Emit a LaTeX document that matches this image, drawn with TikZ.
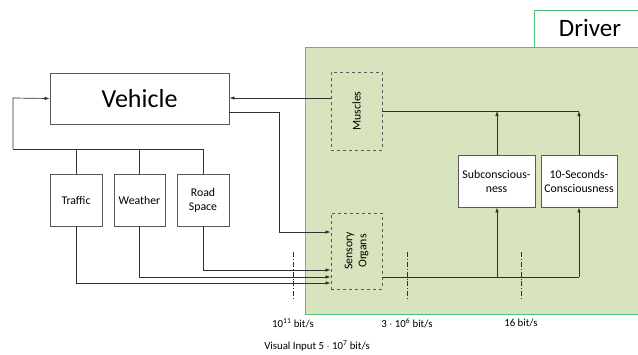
\documentclass[tikz,border=0pt]{standalone}
\usepackage{fontspec}
\setmainfont{Carlito}
\usetikzlibrary{arrows.meta}
\definecolor{linec}{HTML}{303030}
\definecolor{boxc}{HTML}{595959}
\definecolor{greenfill}{HTML}{D7E4BD}
\definecolor{greenline}{HTML}{4CC27E}
\tikzset{
  box/.style={draw=boxc, line width=0.8pt, fill=white, inner sep=1pt, align=center, font=\fontsize{11.8}{14}\selectfont},
  dbox/.style={draw=boxc, line width=0.8pt, dashed, inner sep=1pt, align=center, font=\fontsize{11.8}{14}\selectfont},
  conn/.style={draw=linec, line width=0.7pt},
  arr/.style={conn, -{Latex[length=5pt,width=3.6pt]}},
  ddot/.style={draw=linec, line width=0.6pt, dash pattern=on 5pt off 2pt on 0.8pt off 2pt},
  lbl/.style={font=\fontsize{10.8}{12}\selectfont, inner sep=0pt}
}
\begin{document}
\begin{tikzpicture}[x=1pt,y=-1pt]
\useasboundingbox (0,0) rectangle (638,354);
% Driver area
\fill[greenfill] (305,47) rectangle (642,314);
\draw[greenline, line width=0.8pt] (642,47) -- (305,47) -- (305,314) -- (642,314);
\draw[greenline, line width=0.8pt, fill=white] (534,47) -- (534,10) -- (642,10) -- (642,47);
\node[font=\fontsize{25}{28}\selectfont, anchor=center] (driver) at (590,28) {Driver};
% Vehicle
\node[box, minimum width=179pt, minimum height=51pt, font=\fontsize{26}{30}\selectfont] (veh) at (139.5,98.5) {Vehicle};
% environment boxes
\node[box, minimum width=52pt, minimum height=52pt] (traffic) at (76,200) {Traffic};
\node[box, minimum width=51pt, minimum height=52pt] (weather) at (139.5,200) {Weather};
\node[box, minimum width=52pt, minimum height=52pt] (road) at (203,200) {Road\\Space};
% driver inner boxes
\node[dbox, minimum width=51pt, minimum height=78pt] (muscles) at (356.5,111) {\rotatebox{90}{Muscles}};
\node[dbox, minimum width=51pt, minimum height=76pt] (sensory) at (356.5,251) {\rotatebox{90}{\begin{tabular}{@{}c@{}}Sensory\\Organs\end{tabular}}};
\node[box, minimum width=77pt, minimum height=52pt] (subc) at (496.5,181) {Subconscious-\\ness};
\node[box, minimum width=76pt, minimum height=52pt] (tens) at (579,181) {10-Seconds-\\Consciousness};
% coordinates
\coordinate (lj) at (13,149);
\coordinate (rj) at (203,149);
\coordinate (cA) at (497,111);
\coordinate (cB) at (579,111);
\coordinate (sA) at (497,277);
\coordinate (sB) at (579,277);
% feedback loop
\draw[conn] (road.north) -- (rj) -- (lj);
\draw[conn] (traffic.north) -- (traffic.north |- lj);
\draw[conn] (weather.north) -- (weather.north |- lj);
\draw[arr] (lj) -- (13,98) -- (veh.west);
% muscles to vehicle
\draw[arr] (muscles.west |- 0,98) -- (veh.east |- 0,98);
% vehicle to sensory
\draw[arr] (veh.east |- 0,112) -- (279,112) -- (279,232) -- (sensory.west |- 0,232);
% environment to sensory
\draw[arr] (road.south) -- (road.south |- 0,270) -- (sensory.west |- 0,270);
\draw[arr] (weather.south) -- (weather.south |- 0,277) -- (sensory.west |- 0,277);
\draw[arr] (traffic.south) -- (traffic.south |- 0,283) -- (sensory.west |- 0,283);
% consciousness to muscles
\draw[conn] (muscles.east |- cA) -- (cB);
\draw[arr] (subc.north -| cA) -- (cA);
\draw[arr] (tens.north -| cB) -- (cB);
% sensory to consciousness
\draw[conn] (sensory.east |- sA) -- (sB);
\draw[arr] (sA) -- (subc.south -| sA);
\draw[arr] (sB) -- (tens.south -| sB);
% dash-dot markers
\draw[ddot] (293,252) -- (293,301);
\draw[ddot] (407,252) -- (407,301);
\draw[ddot] (521,252) -- (521,301);
% labels
\node[lbl] (l1) at (293,323) {10\textsuperscript{11} bit/s};
\node[lbl] (l2) at (407,323) {3 $\cdot$ 10\textsuperscript{6} bit/s};
\node[lbl] (l3) at (521,323) {16 bit/s};
\node[lbl] (l4) at (317,346) {Visual Input 5 $\cdot$ 10\textsuperscript{7} bit/s};
\end{tikzpicture}
\end{document}
